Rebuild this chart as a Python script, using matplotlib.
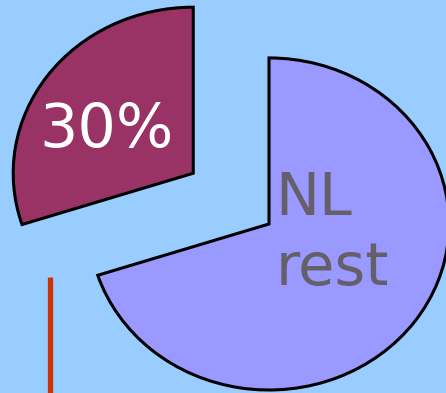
import numpy as np
import matplotlib.pyplot as plt

# %% data
shares = [70, 30]
pct_label = '30%'
rest_label = ['NL', 'rest']
colors = ['#9999FF', '#993366']
explode = [0, 0.52]

# orange marker line, in pie units
marker_x = -1.214
marker_y = [-0.319, -1.2]

# %% plot
fig = plt.figure(figsize=(4.46, 3.93), dpi=100)
fig.patch.set_facecolor('#99CCFF')
ax = fig.add_axes([0, 0, 1, 1])
ax.set_facecolor('#99CCFF')

wedges, _ = ax.pie(shares, colors=colors, explode=explode, startangle=90,
                   counterclock=False,
                   wedgeprops=dict(edgecolor='black', linewidth=2.2))

ax.text(-0.9, 0.464, pct_label, color='white', fontsize=43.5,
        ha='center', va='baseline')
for txt, yb in zip(rest_label, [0.054, -0.367]):
    ax.text(0.035, yb, txt, color='#645F69', fontsize=42.5,
            ha='left', va='baseline')

ax.plot([marker_x, marker_x], marker_y, color='#CC3300', lw=3.8,
        solid_capstyle='butt')

# stretch the pie a little wider than tall
ax.set_aspect('auto')
ax.set_xlim(-1.494, 0.983)
ax.set_ylim(-1.018, 1.349)
ax.axis('off')

fig.savefig('out.png', dpi=100, facecolor=fig.get_facecolor())
